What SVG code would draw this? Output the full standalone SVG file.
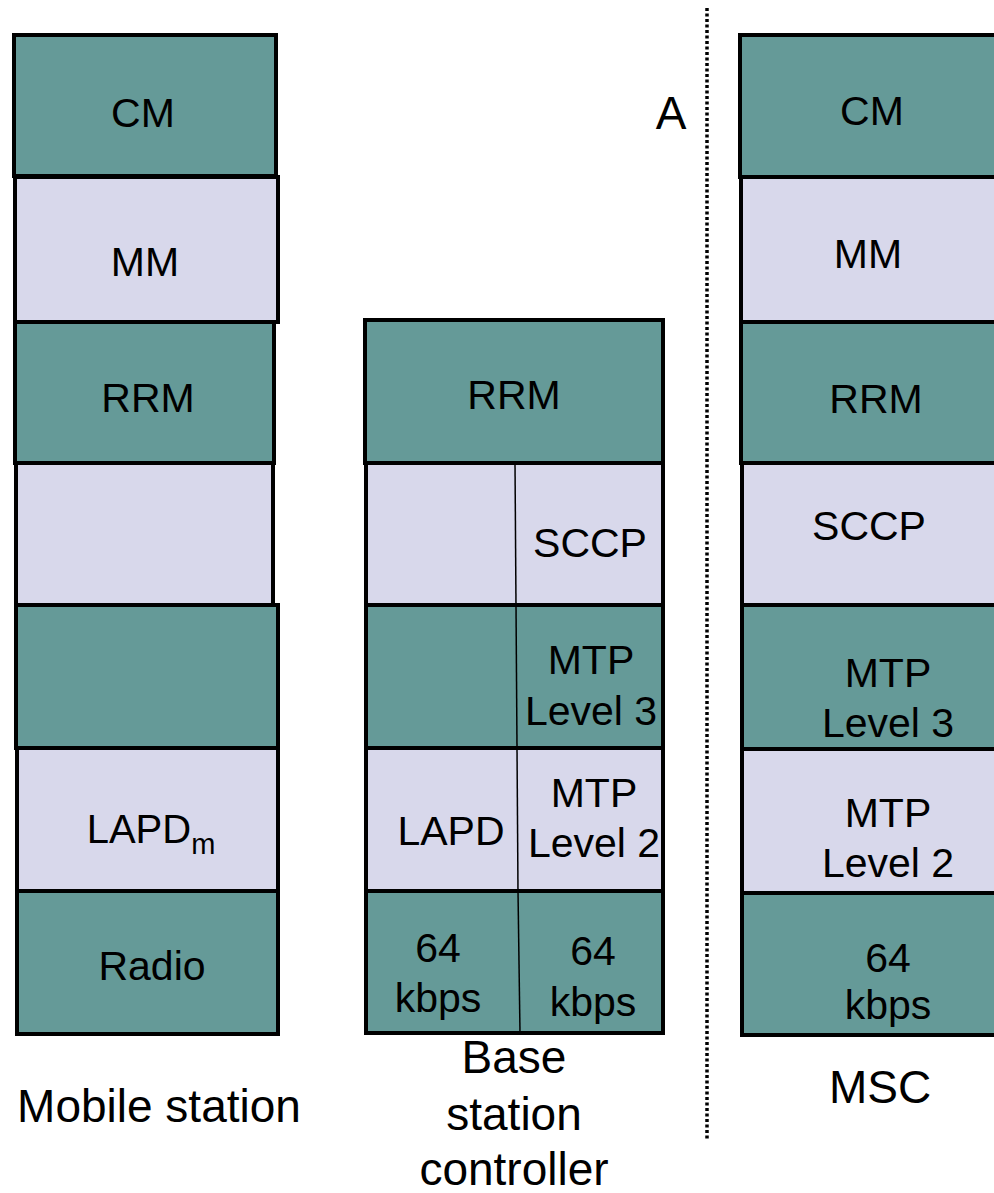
<svg xmlns="http://www.w3.org/2000/svg" width="994" height="1193" viewBox="0 0 994 1193">
<style>
.t{fill:#659a98;stroke:#000;stroke-width:4}
.l{fill:#d8d8eb;stroke:#000;stroke-width:4}
.d{stroke:#000;stroke-width:1.5}
text{font-family:"Liberation Sans",Arial,sans-serif;font-size:41px;fill:#000;text-anchor:middle}
.big{font-size:46px}
</style>
<rect width="994" height="1193" fill="#fff"/>
<g id="connectors">
<line x1="707" y1="8" x2="707" y2="1140" stroke="#000" stroke-width="3.5" stroke-dasharray="3 2.5"/>
</g>
<g id="ms">
<g id="ms-cm"><rect class="t" x="14" y="35" width="262" height="141"/><text x="143" y="127">CM</text></g>
<g id="ms-mm"><rect class="l" x="15" y="177" width="263" height="145"/><text x="145" y="276">MM</text></g>
<g id="ms-rrm"><rect class="t" x="15" y="322" width="259" height="141"/><text x="148" y="412">RRM</text></g>
<g id="ms-empty1"><rect class="l" x="16" y="463" width="257" height="142"/></g>
<g id="ms-empty2"><rect class="t" x="16" y="605" width="262" height="143"/></g>
<g id="ms-lapdm"><rect class="l" x="17" y="748" width="261" height="143"/><text x="151" y="843" style="font-size:40px">LAPD<tspan style="font-size:29px" dy="11">m</tspan></text></g>
<g id="ms-radio"><rect class="t" x="17" y="891" width="261" height="143"/><text x="152" y="980">Radio</text></g>
<text class="big" x="159" y="1122">Mobile station</text>
</g>
<g id="bsc">
<g id="bsc-rrm"><rect class="t" x="365" y="320" width="298" height="143"/><text x="514" y="409">RRM</text></g>
<g id="bsc-sccp"><rect class="l" x="366" y="463" width="297" height="142"/><line class="d" x1="515" y1="463" x2="516" y2="605"/><text x="590" y="557">SCCP</text></g>
<g id="bsc-mtp3"><rect class="t" x="366" y="605" width="297" height="143"/><line class="d" x1="516" y1="605" x2="517" y2="748"/><text x="591" y="674">MTP</text><text x="591" y="725">Level 3</text></g>
<g id="bsc-l2"><rect class="l" x="366" y="748" width="297" height="143"/><line class="d" x1="517" y1="748" x2="518" y2="891"/><text x="451" y="845">LAPD</text><text x="594" y="807">MTP</text><text x="594" y="857">Level 2</text></g>
<g id="bsc-64"><rect class="t" x="366" y="891" width="297" height="142"/><line class="d" x1="518" y1="891" x2="520" y2="1033"/><text x="438" y="962">64</text><text x="438" y="1012">kbps</text><text x="593" y="965">64</text><text x="593" y="1016">kbps</text></g>
<text class="big" x="514" y="1073">Base</text>
<text class="big" x="514" y="1130">station</text>
<text class="big" x="514" y="1185">controller</text>
</g>
<text class="big" x="671" y="129">A</text>
<g id="msc">
<g id="msc-cm"><rect class="t" x="740" y="35" width="300" height="142"/><text x="872" y="125">CM</text></g>
<g id="msc-mm"><rect class="l" x="741" y="177" width="300" height="145"/><text x="868" y="268">MM</text></g>
<g id="msc-rrm"><rect class="t" x="741" y="322" width="300" height="141"/><text x="876" y="413">RRM</text></g>
<g id="msc-sccp"><rect class="l" x="742" y="463" width="300" height="142"/><text x="869" y="540">SCCP</text></g>
<g id="msc-mtp3"><rect class="t" x="742" y="605" width="300" height="144"/><text x="888" y="687">MTP</text><text x="888" y="737">Level 3</text></g>
<g id="msc-mtp2"><rect class="l" x="742" y="749" width="300" height="144"/><text x="888" y="827">MTP</text><text x="888" y="877">Level 2</text></g>
<g id="msc-64"><rect class="t" x="742" y="893" width="300" height="142"/><text x="888" y="972">64</text><text x="888" y="1019">kbps</text></g>
<text class="big" x="880" y="1103">MSC</text>
</g>
</svg>
